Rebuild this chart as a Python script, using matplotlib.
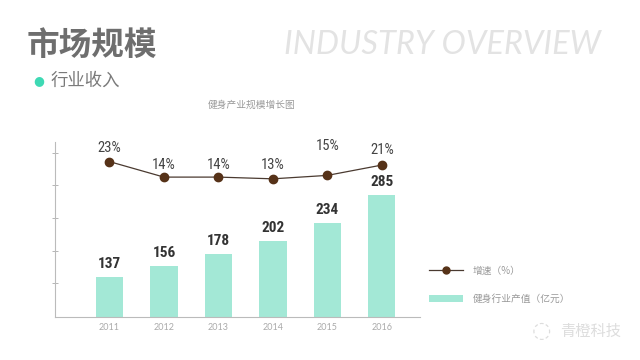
import matplotlib
matplotlib.use('Agg')
import matplotlib.pyplot as plt
from matplotlib.patches import Patch
from matplotlib.lines import Line2D

plt.rcParams['font.family'] = ['Noto Sans CJK SC', 'DejaVu Sans']

years = ['2011', '2012', '2013', '2014', '2015', '2016']
output_value = [137, 156, 178, 202, 234, 285]   # 健身行业产值（亿元）
growth = [23, 14, 14, 13, 15, 21]               # 增速（%）
growth_label_offset = [10, 9, 9, 10, 21, 11]   # points above the marker

bar_color = '#a3e8d6'
line_color = '#4a3a30'
marker_color = '#563218'
narrow = ['Roboto Condensed', 'Liberation Sans Narrow', 'Roboto', 'DejaVu Sans']

fig = plt.figure(figsize=(6.4, 3.6), dpi=100)
fig.patch.set_facecolor('white')

# header
fig.text(27 / 640, 1 - 45 / 360, '市场规模', fontsize=23.5, color='#6e6e6e',
         fontweight='bold', va='center', ha='left')
fig.text(284 / 640, 1 - 45 / 360, 'INDUSTRY OVERVIEW', fontsize=23.5, color='#e3e3e3',
         style='italic', va='center', ha='left', family=['Lato', 'DejaVu Sans'])
fig.text(33 / 640, 1 - 81 / 360, '●', fontsize=9, color='#3ed9b4', va='center',
         ha='left', family=['DejaVu Sans'])
fig.text(51 / 640, 1 - 81 / 360, '行业收入', fontsize=12.5, color='#7a7a7a',
         va='center', ha='left')
fig.text(252 / 640, 1 - 105 / 360, '健身产业规模增长图', fontsize=7, color='#999999',
         va='center', ha='center')

ax = fig.add_axes([55 / 640, 1 - 317 / 360, 365 / 640, 175 / 360])
x = range(len(years))
ax.bar(x, output_value, width=0.5, color=bar_color, zorder=2)
ax.set_ylim(64, 380)
ax.set_xlim(-1, 5.7)
ax.set_yticks([125, 184, 243, 302, 361])
ax.set_yticklabels([])
ax.tick_params(axis='y', direction='inout', length=4, color='#aaaaaa', width=0.6)
ax.tick_params(axis='x', length=0, labelsize=6.5, labelcolor='#aaaaaa', pad=4)
ax.set_xticks(list(x))
ax.set_xticklabels(years, family=['Lato', 'DejaVu Sans'])
for s in ['top', 'right']:
    ax.spines[s].set_visible(False)
for s in ['left', 'bottom']:
    ax.spines[s].set_color('#bbbbbb')
    ax.spines[s].set_linewidth(0.8)

for xi, v in zip(x, output_value):
    ax.annotate(str(v), (xi, v), xytext=(0, 4), textcoords='offset points',
                ha='center', va='bottom', fontsize=11, fontweight='bold',
                color='#333333', family=narrow)

ax2 = ax.twinx()
ax2.set_ylim(-67.3, 34.4)
ax2.axis('off')
ax2.plot(x, growth, color=line_color, lw=0.9, marker='o', markersize=6,
         markerfacecolor=marker_color, markeredgecolor=marker_color, zorder=3)
for xi, g, off in zip(x, growth, growth_label_offset):
    ax2.annotate(f'{g}%', (xi, g), xytext=(0, off), textcoords='offset points',
                 ha='center', va='center', fontsize=10.5, color='#444444',
                 family=narrow)

# legend
handles = [Line2D([0], [0], color=line_color, lw=0.9, marker='o', markersize=5,
                  markerfacecolor=marker_color, markeredgecolor=marker_color),
           Patch(facecolor=bar_color, edgecolor='none')]
fig.legend(handles, ['增速（%）', '健身行业产值（亿元）'], loc='upper left',
           bbox_to_anchor=(420 / 640, 1 - 257 / 360), frameon=False, fontsize=7,
           labelcolor='#999999', handlelength=3.5, labelspacing=1.9,
           handletextpad=1.0)

# watermark
fig.text(560 / 640, 1 - 331 / 360, '青橙科技', fontsize=11, color='#dddddd',
         va='center', ha='left')
fig.text(532 / 640, 1 - 331 / 360, '◌', fontsize=16, color='#dddddd',
         va='center', ha='left', family=['DejaVu Sans'])

fig.savefig('out.png', dpi=100)
